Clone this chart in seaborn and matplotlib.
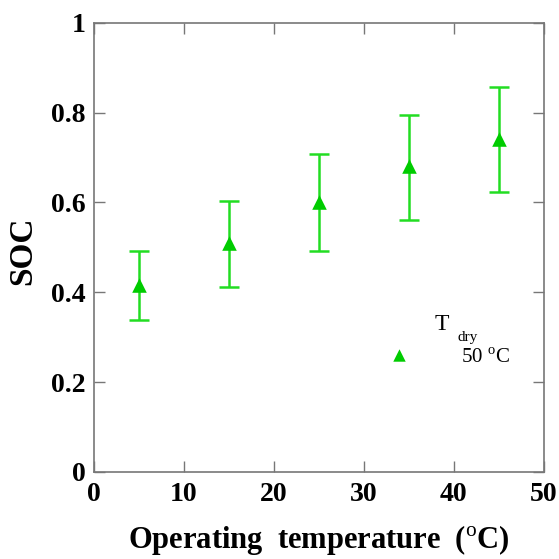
import numpy as np
import pandas as pd
import matplotlib
matplotlib.use("Agg")
import matplotlib.pyplot as plt
import seaborn as sns

temperature = [5, 15, 25, 35, 45]
soc = [0.416, 0.509, 0.601, 0.681, 0.742]
soc_upper = [0.492, 0.604, 0.708, 0.795, 0.857]
soc_lower = [0.339, 0.412, 0.492, 0.562, 0.624]

sns.set_style("ticks")
plt.rcParams['font.family'] = ['Liberation Serif', 'DejaVu Serif']
plt.rcParams['mathtext.fontset'] = 'custom'
plt.rcParams['mathtext.rm'] = 'Liberation Serif'
plt.rcParams['text.color'] = 'black'
plt.rcParams['axes.labelcolor'] = 'black'
plt.rcParams['xtick.labelcolor'] = 'black'
plt.rcParams['ytick.labelcolor'] = 'black'

df = pd.DataFrame({"T": temperature, "SOC": soc})
green = '#00cc00'
ebar = '#22dd22'

fig = plt.figure(figsize=(5.59, 5.59), dpi=100)
ax = fig.add_axes([0.168, 0.156, 0.805, 0.803])

yerr = [np.array(soc) - np.array(soc_lower), np.array(soc_upper) - np.array(soc)]
ax.errorbar(temperature, soc, yerr=yerr, fmt='none', ecolor=ebar, elinewidth=1.8,
            capsize=7, capthick=1.8, zorder=2)
sns.scatterplot(data=df, x="T", y="SOC", marker='^', s=110, color=green,
                edgecolor=green, linewidth=0, ax=ax, zorder=3, legend=False)

ax.set_xlim(0, 50)
ax.set_ylim(0, 1)
ax.set_xticks([0, 10, 20, 30, 40, 50])
ax.set_yticks([0, 0.2, 0.4, 0.6, 0.8, 1.0])
ax.set_xticklabels(['0', '10', '20', '30', '40', '50'])
ax.set_yticklabels(['0', '0.2', '0.4', '0.6', '0.8', '1'])
for lab in ax.get_xticklabels() + ax.get_yticklabels():
    lab.set_fontweight('bold')
    lab.set_fontsize(20)
    lab.set_color('black')
ax.tick_params(direction='in', length=8, width=1, color='#777777', top=True, right=True)
ax.tick_params(axis='x', pad=7)
ax.tick_params(axis='y', pad=6)
for sp in ax.spines.values():
    sp.set_color('#777777')
    sp.set_linewidth(1.2)

ax.set_xlabel(r'Operating  temperature  ($^{\mathrm{o}}$C)', fontsize=22, fontweight='bold',
              color='black', va='center')
ax.xaxis.set_label_coords(0.5, -0.153)
ax.set_ylabel('SOC', fontsize=24, fontweight='bold', color='black', va='center')
ax.yaxis.set_label_coords(-0.158, 0.492)

# legend
ax.scatter([33.9], [0.26], marker='^', s=80, color=green, linewidth=0)
ax.text(37.9, 0.328, 'T', fontsize=17, ha='left', va='center')
ax.text(40.4, 0.299, 'dry', fontsize=11, ha='left', va='center')
ax.text(40.8, 0.252, r'50 $^{\mathrm{o}}$C', fontsize=15, ha='left', va='center')

fig.savefig('out.png', dpi=100)
